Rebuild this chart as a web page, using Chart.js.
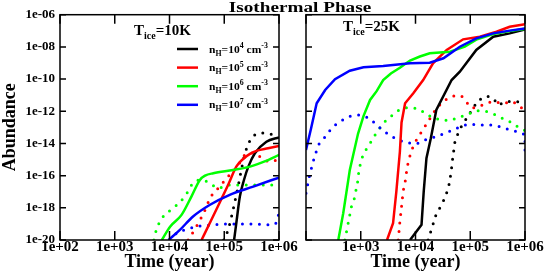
<!DOCTYPE html>
<html>
<head>
<meta charset="utf-8">
<script src="https://cdn.jsdelivr.net/npm/chart.js@4.4.1/dist/chart.umd.min.js"></script>
<style>
  html, body { margin: 0; padding: 0; background: #fff; }
  .panel { position: absolute; left: 0; top: 0; width: 545px; height: 273px; }
</style>
</head>
<body>
<div class="panel"><canvas id="leftChart"></canvas></div>
<div class="panel"><canvas id="rightChart"></canvas></div>
<script>
// Tick values and labels
const timeTicks = [1e2, 1e3, 1e4, 1e5, 1e6];
const timeTickLabels = ["1e+02", "1e+03", "1e+04", "1e+05", "1e+06"];
const rightTimeTicks = [1e3, 1e4, 1e5, 1e6];
const rightTimeTickLabels = ["1e+03", "1e+04", "1e+05", "1e+06"];
const abundTicks = [1e-20, 1e-18, 1e-16, 1e-14, 1e-12, 1e-10, 1e-8, 1e-6];
const abundTickLabels = ["1e-20", "1e-18", "1e-16", "1e-14", "1e-12", "1e-10", "1e-08", "1e-06"];

// legend: n_H = 10^x cm^-3
const densityExp = ["4", "5", "6", "7"];
const panelTemps = ["10K", "25K"];

// Values as [log10(time/yr), log10(abundance)]
// T_ice = 10K
const cold_n4_line = [[5.18,-20],[5.22,-18.96],[5.285,-17.3],[5.36,-16.27],[5.44,-15.44],[5.56,-14.61],[5.77,-13.89],[6.0,-13.62]];
const cold_n4_dots = [[4.99,-20],[5.07,-19.37],[5.16,-18.13],[5.24,-16.89],[5.30,-15.85],[5.38,-14.61],[5.52,-13.58],[5.71,-13.35],[5.85,-13.42],[5.98,-13.58]];
const cold_n5_line = [[4.585,-20],[4.75,-18.85],[4.92,-17.65],[5.08,-16.5],[5.22,-15.44],[5.35,-14.95],[5.47,-14.65],[5.6,-14.45],[5.8,-14.3],[6.0,-14.15]];
const cold_n5_dots = [[4.34,-20],[4.49,-19.17],[4.65,-18.13],[4.74,-17.4],[4.89,-16.78],[5.07,-16.06],[5.24,-15.44],[5.38,-14.71],[5.52,-14.6],[5.65,-14.82],[5.83,-15.13],[5.98,-15.02]];
const cold_n6_line = [[3.86,-20],[4.01,-19.17],[4.22,-18.44],[4.40,-17.3],[4.555,-16.27],[4.65,-16.0],[4.80,-15.85],[5.16,-15.65],[5.47,-15.44],[5.75,-15.1],[6.0,-14.71]];
const cold_n6_dots = [[3.715,-20],[3.76,-19.37],[3.885,-18.54],[4.07,-18.02],[4.28,-17.3],[4.43,-16.47],[4.585,-16.27],[4.74,-16.47],[4.89,-16.78],[5.07,-16.58],[5.38,-16.58],[5.71,-16.58],[5.98,-16.58]];
const cold_n7_line = [[3.98,-20],[4.19,-19.37],[4.43,-18.54],[4.74,-17.81],[5.10,-17.19],[5.53,-16.68],[6.0,-16.12]];
const cold_n7_dots = [[4.01,-20],[4.13,-19.58],[4.28,-19.37],[4.49,-19.17],[4.80,-19.06],[5.16,-19.0],[5.53,-19.0],[5.89,-19.06],[5.97,-18.75],[6.0,-18.23]];

// T_ice = 25K
const warm_n4_line = [[3.90,-20],[4.11,-19.06],[4.15,-16.99],[4.20,-14.92],[4.28,-13.68],[4.38,-11.92],[4.66,-10.06],[4.81,-9.54],[5.11,-8.19],[5.42,-7.37],[5.72,-7.16],[6.0,-6.91]];
const warm_n4_dots = [[4.23,-20],[4.37,-18.48],[4.51,-17.57],[4.60,-16.8],[4.65,-15.8],[4.68,-14.9],[4.72,-13.9],[4.80,-13.16],[4.96,-12.29],[5.14,-11.34],[5.30,-11.05],[5.42,-11.19],[5.51,-11.61],[5.66,-11.4],[5.84,-11.4],[6.0,-11.5]];
const warm_n5_line = [[3.48,-20],[3.59,-18.96],[3.65,-16.99],[3.715,-14.5],[3.745,-12.7],[3.81,-11.5],[3.96,-10.88],[4.14,-10.06],[4.32,-9.02],[4.57,-8.19],[4.87,-7.53],[5.175,-7.37],[5.48,-7.06],[5.72,-6.75],[6.0,-6.6]];
const warm_n5_dots = [[3.685,-20],[3.715,-18.86],[3.745,-17.92],[3.775,-16.95],[3.81,-16.41],[3.85,-15.44],[3.885,-14.92],[3.93,-14.41],[3.99,-13.93],[4.07,-13.5],[4.15,-13.06],[4.23,-12.65],[4.31,-12.17],[4.41,-11.71],[4.54,-11.3],[4.68,-11.05],[4.84,-11.05],[4.94,-11.47],[5.04,-11.81],[5.175,-11.67],[5.39,-11.4],[5.6,-11.5],[5.78,-11.4],[5.9,-11.71],[6.0,-11.92]];
const warm_n6_line = [[2.59,-20],[2.68,-18.34],[2.80,-15.65],[2.95,-13.4],[3.05,-12.3],[3.17,-11.3],[3.29,-10.75],[3.41,-10.06],[3.55,-9.65],[3.715,-9.3],[3.90,-8.85],[4.08,-8.6],[4.26,-8.4],[4.63,-8.3],[4.90,-7.99],[5.11,-7.55],[5.42,-7.2],[5.72,-7.02],[6.0,-6.88]];
const warm_n6_dots = [[2.71,-20],[2.77,-18.96],[2.83,-17.92],[2.88,-17.45],[2.91,-16.95],[2.94,-16.47],[2.97,-15.6],[3.02,-14.92],[3.08,-14.47],[3.17,-13.99],[3.23,-13.64],[3.32,-13.16],[3.44,-12.65],[3.545,-12.34],[3.685,-11.96],[3.84,-11.78],[4.01,-11.81],[4.17,-12.09],[4.29,-12.37],[4.46,-12.54],[4.63,-12.58],[4.80,-12.37],[4.96,-12.17],[5.11,-11.96],[5.30,-12.02],[5.47,-12.23],[5.62,-12.5],[5.78,-12.74],[5.9,-13.06],[6.0,-13.2]];
const warm_n7_line = [[2.0,-14.41],[2.09,-13.1],[2.195,-11.5],[2.35,-10.68],[2.53,-10.01],[2.80,-9.48],[3.05,-9.27],[3.41,-9.19],[3.90,-9.02],[4.26,-8.98],[4.51,-8.71],[4.81,-7.99],[5.11,-7.47],[5.42,-7.16],[5.72,-6.99],[6.0,-6.85]];
const warm_n7_dots = [[2.0,-17.09],[2.06,-16.06],[2.13,-15.13],[2.225,-14.09],[2.32,-13.72],[2.41,-13.31],[2.51,-12.91],[2.67,-12.54],[2.815,-12.29],[2.985,-12.23],[3.16,-12.43],[3.29,-12.85],[3.45,-13.3],[3.65,-13.74],[3.84,-13.95],[4.02,-14.03],[4.20,-13.74],[4.38,-13.58],[4.50,-13.41],[4.69,-13.16],[4.85,-12.9],[5.0,-12.8],[5.175,-12.85],[5.36,-12.85],[5.54,-12.96],[5.72,-13.16],[5.9,-13.3],[6.0,-13.47],[6.0,-14.0],[6.0,-14.5]];

const colors = ["#000000", "#ff0000", "#00ff00", "#0000ff"];
const FONT = "'Liberation Serif', 'Times New Roman', serif";

const toPts = arr => arr.map(p => ({ x: Math.pow(10, p[0]), y: Math.pow(10, p[1]) }));

function makeDatasets(lines, dots, smooth) {
  const ds = [];
  lines.forEach((s, i) => {
    ds.push({
      data: toPts(s), borderColor: colors[i], borderWidth: 2.5,
      pointRadius: 0, order: 10 - i,
      cubicInterpolationMode: smooth ? "monotone" : "default", tension: 0
    });
  });
  dots.forEach((s, i) => {
    ds.push({
      data: toPts(s), borderColor: colors[i], borderWidth: 3,
      borderDash: [0, 8.5], borderCapStyle: "round",
      pointRadius: 0, order: 20 - i,
      cubicInterpolationMode: smooth ? "monotone" : "default", tension: 0
    });
  });
  return ds;
}

// text drawn in pieces (for sub/superscripts), sx = horizontal stretch
function drawRuns(ctx, x, y, runs, sx, center) {
  ctx.save();
  let w = 0;
  runs.forEach(r => { ctx.font = "bold " + r.s + "px " + FONT; w += ctx.measureText(r.t).width; });
  ctx.translate(center ? x - w * sx / 2 : x, y);
  ctx.scale(sx, 1);
  ctx.fillStyle = "#000";
  ctx.textAlign = "left";
  ctx.textBaseline = "alphabetic";
  let cx = 0;
  runs.forEach(r => {
    ctx.font = "bold " + r.s + "px " + FONT;
    ctx.fillText(r.t, cx, r.dy || 0);
    cx += ctx.measureText(r.t).width;
  });
  ctx.restore();
}

// frame with inward ticks on all four sides
const framePlugin = {
  id: "frame",
  afterDraw(chart) {
    const { ctx, chartArea: a, scales } = chart;
    ctx.save();
    ctx.strokeStyle = "#000";
    ctx.lineWidth = 1.5;
    ctx.strokeRect(a.left, a.top, a.right - a.left, a.bottom - a.top);
    ctx.beginPath();
    timeTicks.forEach(v => {
      const px = scales.x.getPixelForValue(v);
      ctx.moveTo(px, a.bottom); ctx.lineTo(px, a.bottom - 9);
      ctx.moveTo(px, a.top); ctx.lineTo(px, a.top + 9);
    });
    abundTicks.forEach(v => {
      const py = scales.y.getPixelForValue(v);
      ctx.moveTo(a.left, py); ctx.lineTo(a.left + 6, py);
      ctx.moveTo(a.right, py); ctx.lineTo(a.right - 6, py);
    });
    ctx.stroke();
    ctx.restore();

    const opts = chart.options.plugins.frame;
    drawRuns(ctx, opts.tx, opts.ty, [
      { t: "T", s: 15 }, { t: "ice", s: 10, dy: 4 }, { t: "=" + opts.temp, s: 15 }
    ], 1.0, false);

    if (opts.legend) {
      densityExp.forEach((e, i) => {
        const y = 49 + i * 18.6;
        ctx.save();
        ctx.strokeStyle = colors[i];
        ctx.lineWidth = 2.5;
        ctx.beginPath();
        ctx.moveTo(177, y); ctx.lineTo(198, y);
        ctx.stroke();
        ctx.restore();
        drawRuns(ctx, 209, y + 3.5, [
          { t: "n", s: 11 }, { t: "H", s: 7.5, dy: 3 }, { t: "=10", s: 11 },
          { t: e, s: 7.5, dy: -4.5 }, { t: " cm", s: 11 }, { t: "-3", s: 7.5, dy: -4.5 }
        ], 1.05, false);
      });
      drawRuns(ctx, 300, 11.5, [{ t: "Isothermal Phase", s: 15 }], 1.28, true);
    }
  }
};

function makeChart(id, datasets, xTicks, xLabels, left, opts) {
  return new Chart(document.getElementById(id), {
    type: "line",
    data: { datasets },
    plugins: [framePlugin],
    options: {
      responsive: true,
      maintainAspectRatio: false,
      animation: false,
      layout: { padding: left ? { left: 0, right: 266, top: 14.7, bottom: 0 } : { left: 306, right: 20, top: 14.7, bottom: 0 } },
      plugins: { legend: { display: false }, tooltip: { enabled: false }, frame: opts },
      scales: {
        x: {
          type: "logarithmic", min: 1e2, max: 1e6,
          grid: { display: false, drawTicks: false }, border: { display: false },
          afterBuildTicks: s => { s.ticks = xTicks.map(v => ({ value: v })); },
          afterFit: s => { s.height = 33; },
          ticks: {
            autoSkip: false, maxRotation: 0, padding: 0, color: "#000",
            font: { family: FONT, size: 15, weight: "bold", lineHeight: 1 },
            callback: (v, i) => xLabels[i]
          },
          title: {
            display: true, text: "Time (year)", color: "#000",
            font: { family: FONT, size: 18, weight: "bold", lineHeight: 1.1 },
            padding: { top: 0, bottom: 1 }
          }
        },
        y: {
          type: "logarithmic", min: 1e-20, max: 1e-6,
          grid: { display: false, drawTicks: false }, border: { display: false },
          afterBuildTicks: s => { s.ticks = abundTicks.map(v => ({ value: v })); },
          afterFit: s => { s.width = left ? 60 : 0; },
          ticks: {
            display: left, padding: 5, color: "#000",
            font: { family: FONT, size: 13, weight: "bold" },
            callback: (v, i) => abundTickLabels[i]
          },
          title: {
            display: left, text: "Abundance", color: "#000",
            font: { family: FONT, size: 18, weight: "bold" },
            padding: { top: 0, bottom: 0 }
          }
        }
      }
    }
  });
}

makeChart("leftChart",
  makeDatasets([cold_n4_line, cold_n5_line, cold_n6_line, cold_n7_line],
               [cold_n4_dots, cold_n5_dots, cold_n6_dots, cold_n7_dots], true),
  timeTicks, timeTickLabels, true,
  { temp: panelTemps[0], tx: 134, ty: 35, legend: true });

makeChart("rightChart",
  makeDatasets([warm_n4_line, warm_n5_line, warm_n6_line, warm_n7_line],
               [warm_n4_dots, warm_n5_dots, warm_n6_dots, warm_n7_dots], false),
  rightTimeTicks, rightTimeTickLabels, false,
  { temp: panelTemps[1], tx: 343, ty: 31, legend: false });
</script>
</body>
</html>
